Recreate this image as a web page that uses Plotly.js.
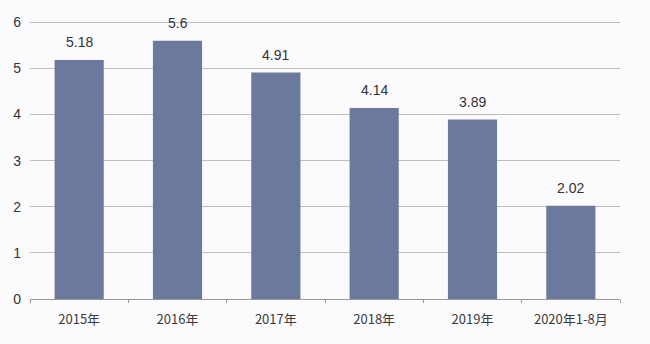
<!DOCTYPE html>
<html><head><meta charset="utf-8">
<script src="https://cdn.plot.ly/plotly-3.0.1.min.js"></script>
<style>html,body{margin:0;padding:0;background:#fbfbfd;}</style>
</head><body>
<div id="chart" style="width:650px;height:344px;"></div>
<script>
const categories = ["2015年","2016年","2017年","2018年","2019年","2020年1-8月"];
const values = [5.18, 5.6, 4.91, 4.14, 3.89, 2.02];
const valueLabels = ["5.18","5.6","4.91","4.14","3.89","2.02"];
const yTicks = [0,1,2,3,4,5,6];

const annotations = categories.map((c, i) => ({
  x: c, y: values[i], xref: "x", yref: "y",
  text: valueLabels[i], showarrow: false,
  yanchor: "bottom", yshift: 8,
  font: {family: "Liberation Sans, Arial, sans-serif", size: 14, color: "#333"}
}));

Plotly.newPlot("chart", [{
  type: "bar",
  x: categories,
  y: values,
  marker: {color: "#6b7a9c"},
  hoverinfo: "none"
}], {
  width: 650, height: 344,
  margin: {l: 30, r: 30, t: 20, b: 45},
  paper_bgcolor: "#fbfbfd",
  plot_bgcolor: "#fbfbfd",
  bargap: 0.5,
  showlegend: false,
  annotations: annotations,
  xaxis: {
    type: "category",
    tickson: "boundaries",
    ticks: "outside",
    ticklen: 3,
    tickcolor: "#999",
    showline: true,
    linecolor: "#999",
    linewidth: 1,
    showgrid: false,
    ticklabelstandoff: 8,
    tickfont: {family: "Noto Sans CJK SC, sans-serif", size: 13, color: "#3a3a3a"}
  },
  yaxis: {
    range: [0, 6.05],
    tickvals: yTicks,
    ticktext: yTicks.map(String),
    showgrid: true,
    gridcolor: "#bdbdbd",
    gridwidth: 1,
    zeroline: false,
    showline: false,
    ticks: "",
    ticklabelstandoff: 8,
    tickfont: {family: "Liberation Sans, Arial, sans-serif", size: 14, color: "#333"}
  }
}, {displayModeBar: false, staticPlot: true});
</script>
</body></html>
